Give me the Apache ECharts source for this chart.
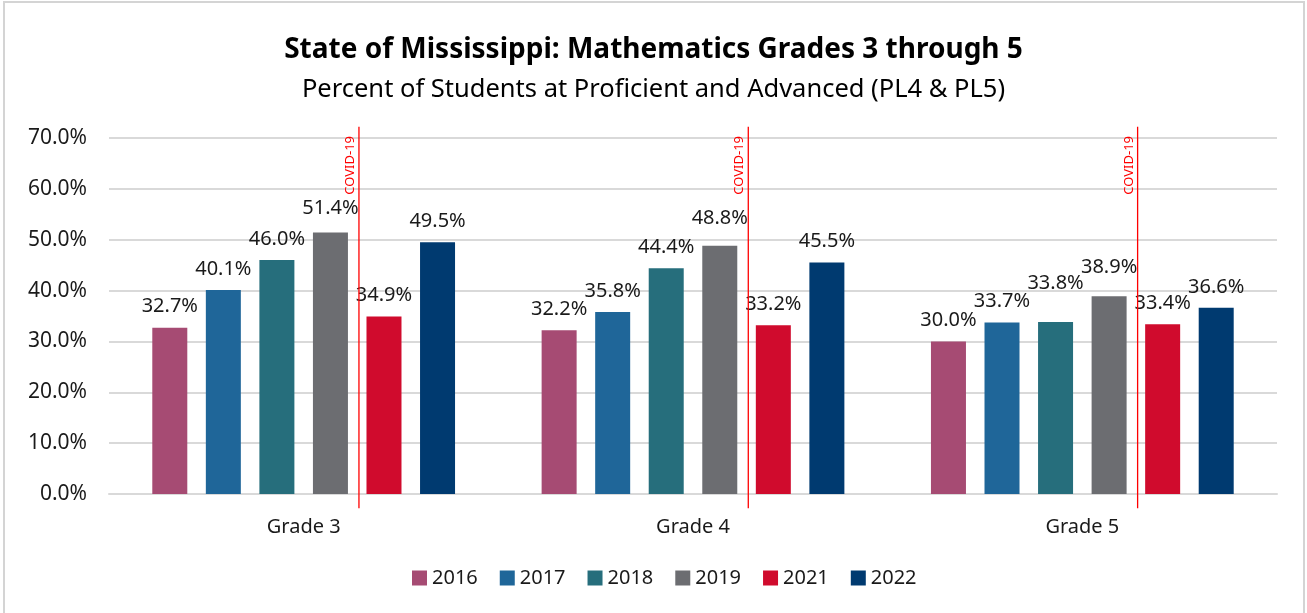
<!DOCTYPE html>
<html>
<head>
<meta charset="utf-8">
<title>Mississippi Mathematics Grades 3-5</title>
<script src="https://cdn.jsdelivr.net/npm/echarts@6/dist/echarts.min.js"></script>
<style>
    html, body { margin: 0; padding: 0; background: #fff; }
    #chart { width: 1307px; height: 613px; }
</style>
</head>
<body>
<div id="chart"></div>
<script type="text/javascript">
    // data
    var grades = ['Grade 3', 'Grade 4', 'Grade 5'];
    var years = ['2016', '2017', '2018', '2019', '2021', '2022'];
    var v2016 = [32.7, 32.2, 30.0];
    var v2017 = [40.1, 35.8, 33.7];
    var v2018 = [46.0, 44.4, 33.8];
    var v2019 = [51.4, 48.8, 38.9];
    var v2021 = [34.9, 33.2, 33.4];
    var v2022 = [49.5, 45.5, 36.6];
    var yTicks = [0, 10, 20, 30, 40, 50, 60, 70];

    var colors = ['#A64B73', '#1F6699', '#266E7C', '#6C6D71', '#D00B2D', '#003A70'];
    var values = [v2016, v2017, v2018, v2019, v2021, v2022];
    // extra lift (px) of a few labels so neighbours don't collide, as in the original
    var labelLift = { '2018': [0, 0, 18], '2019': [3, 7, 8] };
    var font = 'Noto Sans';

    var series = [];
    for (var i = 0; i < years.length; i++) {
        var lift = labelLift[years[i]] || [0, 0, 0];
        var items = [];
        for (var k = 0; k < values[i].length; k++) {
            items.push({ value: values[i][k], label: { offset: [0, -lift[k]] } });
        }
        series.push({
            name: years[i],
            type: 'bar',
            data: items,
            barWidth: 35,
            barGap: '53%',
            itemStyle: { color: colors[i] },
            label: {
                show: true,
                position: 'top',
                distance: 11,
                fontFamily: font,
                fontSize: 20,
                color: '#1a1a1a',
                formatter: function (p) { return p.value.toFixed(1) + '%'; }
            }
        });
    }

    var myChart = echarts.init(document.getElementById('chart'));
    var option = {
        animation: false,
        backgroundColor: '#fff',
        title: [
            {
                text: 'State of Mississippi: Mathematics Grades 3 through 5',
                left: 'center',
                top: 31,
                textStyle: { fontFamily: font, fontSize: 28, fontWeight: 'bold', color: '#000' }
            },
            {
                text: 'Percent of Students at Proficient and Advanced (PL4 & PL5)',
                left: 'center',
                top: 72,
                textStyle: { fontFamily: font, fontSize: 25.5, fontWeight: 'normal', color: '#000' }
            }
        ],
        legend: {
            data: years,
            bottom: 20,
            left: 407,
            icon: 'rect',
            itemWidth: 15,
            itemHeight: 15,
            itemGap: 22,
            textStyle: { fontFamily: font, fontSize: 20, color: '#1a1a1a' }
        },
        grid: { left: 109, right: 30, top: 138, bottom: 119, containLabel: false },
        xAxis: {
            type: 'category',
            data: grades,
            axisTick: { show: false },
            axisLine: { lineStyle: { color: '#d9d9d9', width: 2 } },
            axisLabel: { fontFamily: font, fontSize: 20, color: '#1a1a1a', margin: 23 }
        },
        yAxis: {
            type: 'value',
            min: yTicks[0],
            max: yTicks[yTicks.length - 1],
            interval: 10,
            axisLine: { show: false },
            axisTick: { show: false },
            splitLine: { lineStyle: { color: '#d9d9d9', width: 2 } },
            axisLabel: {
                fontFamily: font, fontSize: 21, color: '#1a1a1a', margin: 22,
                formatter: function (v) { return v.toFixed(1) + '%'; }
            }
        },
        series: series
    };
    myChart.setOption(option);

    // COVID-19 divider between 2019 and 2021 bars, placed through the axes
    var covidOffset = 0.142;
    var x0 = myChart.convertToPixel({ xAxisIndex: 0 }, grades[0]);
    var x1 = myChart.convertToPixel({ xAxisIndex: 0 }, grades[1]);
    var catW = x1 - x0;
    var yTop = myChart.convertToPixel({ yAxisIndex: 0 }, 72.2);
    var yBot = myChart.convertToPixel({ yAxisIndex: 0 }, -2.8);
    var labelTop = myChart.convertToPixel({ yAxisIndex: 0 }, 70.4);
    var graphics = [{
        type: 'rect',
        shape: { x: 4, y: 2, width: 1300, height: 620 },
        style: { fill: 'none', stroke: '#d4d4d4', lineWidth: 2 },
        silent: true
    }];
    for (var g = 0; g < grades.length; g++) {
        var cx = myChart.convertToPixel({ xAxisIndex: 0 }, grades[g]) + covidOffset * catW;
        graphics.push({
            type: 'line',
            shape: { x1: cx, y1: yTop, x2: cx, y2: yBot },
            style: { stroke: '#ff0000', lineWidth: 1.3 },
            z: 10
        });
        graphics.push({
            type: 'text',
            x: cx - 2,
            y: labelTop,
            rotation: Math.PI / 2,
            style: {
                text: 'COVID-19',
                fill: '#ff0000',
                fontFamily: font,
                fontSize: 13,
                align: 'right',
                verticalAlign: 'bottom'
            },
            z: 10
        });
    }
    myChart.setOption({ graphic: graphics });
</script>
</body>
</html>
